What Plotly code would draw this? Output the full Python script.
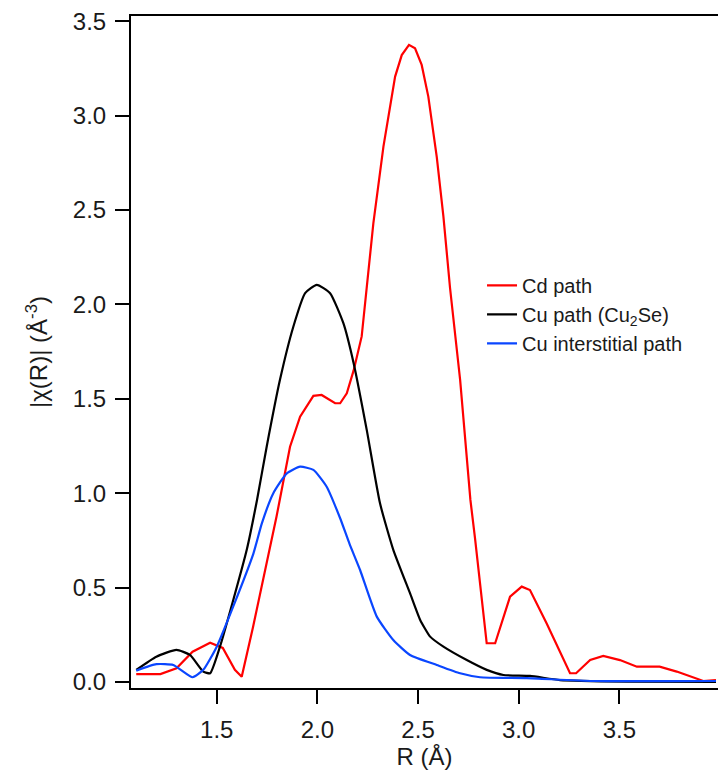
import plotly.graph_objects as go

# Fourier-transform magnitude |chi(R)| for three scattering paths
cd_r = [1.10, 1.22, 1.30, 1.38, 1.467, 1.53, 1.59, 1.624, 1.68, 1.75, 1.797, 1.864, 1.914,
        1.98, 2.021, 2.088, 2.113, 2.146, 2.18, 2.22, 2.253, 2.278, 2.328, 2.386, 2.419,
        2.455, 2.485, 2.518, 2.551, 2.593, 2.626, 2.659, 2.709, 2.76, 2.783, 2.841, 2.883,
        2.957, 3.015, 3.056, 3.139, 3.255, 3.285, 3.355, 3.42, 3.503, 3.587, 3.70, 3.785,
        3.917, 3.98]
cd_chi = [0.042, 0.042, 0.072, 0.16, 0.208, 0.18, 0.064, 0.028, 0.29, 0.646, 0.876, 1.246,
          1.405, 1.515, 1.52, 1.476, 1.476, 1.529, 1.65, 1.83, 2.18, 2.43, 2.835, 3.206,
          3.32, 3.374, 3.356, 3.268, 3.10, 2.78, 2.465, 2.085, 1.60, 0.964, 0.761, 0.205,
          0.205, 0.452, 0.505, 0.487, 0.31, 0.046, 0.046, 0.116, 0.138, 0.116, 0.081,
          0.081, 0.055, 0.005, 0.01]

cu_r = [1.10, 1.20, 1.30, 1.367, 1.433, 1.467, 1.516, 1.582, 1.649, 1.70, 1.748, 1.814,
        1.88, 1.939, 1.997, 2.063, 2.129, 2.18, 2.245, 2.311, 2.377, 2.46, 2.51, 2.56, 2.626,
        2.742, 2.841, 2.924, 3.056, 3.205, 3.537, 3.98]
cu_chi = [0.064, 0.134, 0.17, 0.143, 0.055, 0.046, 0.187, 0.434, 0.70, 0.964, 1.246, 1.60,
          1.88, 2.059, 2.103, 2.059, 1.90, 1.688, 1.335, 0.946, 0.70, 0.47, 0.33, 0.24, 0.187,
          0.116, 0.064, 0.037, 0.032, 0.01, 0.002, 0.0]

int_r = [1.10, 1.20, 1.284, 1.38, 1.433, 1.50, 1.582, 1.682, 1.724, 1.781, 1.848, 1.914,
         1.98, 2.046, 2.113, 2.16, 2.212, 2.295, 2.377, 2.46, 2.593, 2.709, 2.808, 3.04,
         3.37, 3.98]
int_chi = [0.06, 0.094, 0.09, 0.025, 0.064, 0.187, 0.40, 0.68, 0.84, 1.00, 1.105, 1.14,
           1.123, 1.034, 0.867, 0.73, 0.593, 0.346, 0.222, 0.143, 0.09, 0.046, 0.025, 0.02,
           0.005, 0.005]

x_ticks = [1.5, 2.0, 2.5, 3.0, 3.5]
y_ticks = [0.0, 0.5, 1.0, 1.5, 2.0, 2.5, 3.0, 3.5]

FONT = "Arial, Liberation Sans, sans-serif"
TXT = "#1a1a1a"

fig = go.Figure()
fig.add_trace(go.Scatter(x=cd_r, y=cd_chi, mode="lines", name="Cd path",
                         line=dict(color="#ff0000", width=2.2)))
fig.add_trace(go.Scatter(x=cu_r, y=cu_chi, mode="lines", name="Cu path (Cu<sub>2</sub>Se)",
                         line=dict(color="#000000", width=2.2, shape="spline", smoothing=0.5)))
fig.add_trace(go.Scatter(x=int_r, y=int_chi, mode="lines", name="Cu interstitial path",
                         line=dict(color="#0a46ff", width=2.2, shape="spline", smoothing=0.5)))

fig.update_layout(
    width=718, height=773,
    margin=dict(l=131, r=0, t=16, b=85),
    paper_bgcolor="white", plot_bgcolor="white",
    font=dict(family=FONT, size=24, color=TXT),
    showlegend=True,
    legend=dict(x=0.598, y=0.556, xanchor="left", yanchor="middle",
                font=dict(size=20, family=FONT, color=TXT),
                bgcolor="rgba(0,0,0,0)", tracegroupgap=0, itemwidth=30),
    xaxis=dict(range=[1.074, 3.99], tickvals=x_ticks, ticktext=[f"{v:.1f}" for v in x_ticks],
               ticks="outside", ticklen=14, tickwidth=2, tickcolor="black",
               ticklabelstandoff=5,
               tickfont=dict(size=24, family=FONT, color=TXT),
               showline=True, linewidth=2, linecolor="black", mirror=True,
               showgrid=False, zeroline=False,
               title=dict(text="R (Å)", font=dict(size=24, family=FONT, color=TXT), standoff=0)),
    yaxis=dict(range=[-0.032, 3.527], tickvals=y_ticks, ticktext=[f"{v:.1f}" for v in y_ticks],
               ticks="outside", ticklen=14, tickwidth=2, tickcolor="black",
               ticklabelstandoff=4,
               tickfont=dict(size=24, family=FONT, color=TXT),
               showline=True, linewidth=2, linecolor="black", mirror=False,
               showgrid=False, zeroline=False,
               title=dict(text="|χ(R)| (Å<sup>-3</sup>)", font=dict(size=24, family=FONT, color=TXT),
                          standoff=18)),
)

fig.write_html("out.html")
